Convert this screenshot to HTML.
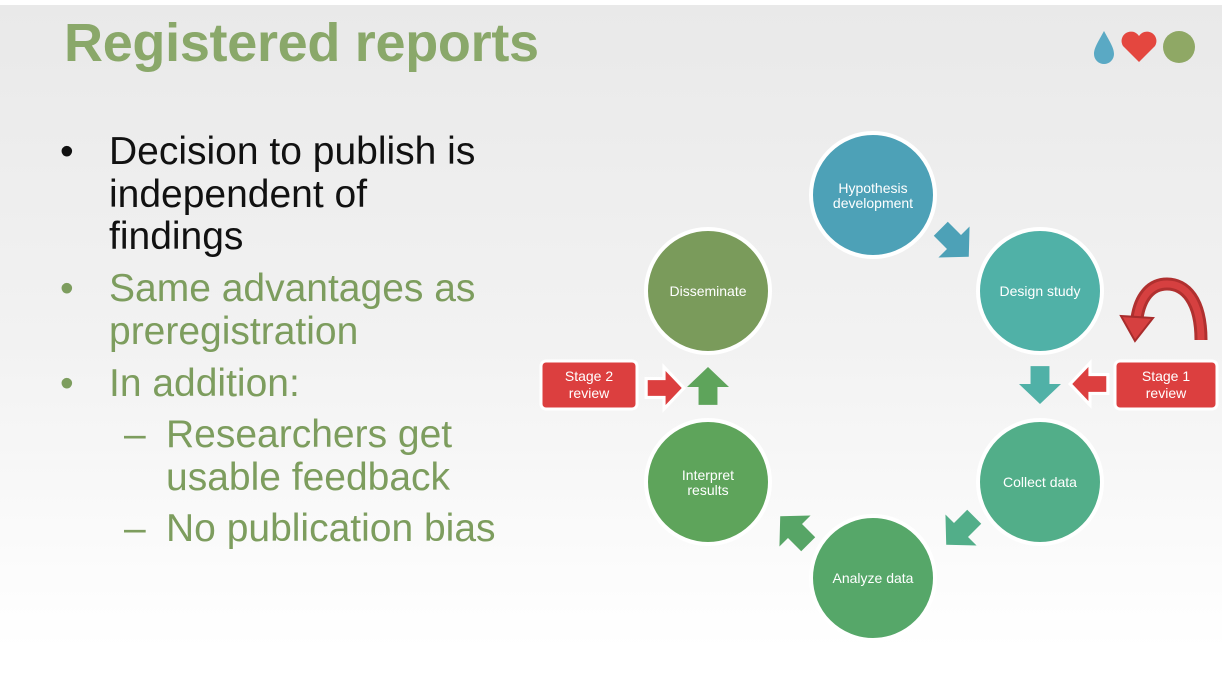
<!DOCTYPE html>
<html><head><style>
body{margin:0;width:1230px;height:683px;overflow:hidden;background:#fff;font-family:"Liberation Sans",sans-serif}
#s{position:absolute;left:0;top:5px;width:1222px;height:678px;background:linear-gradient(#e9e9e9 0%,#f2f2f2 50%,#ffffff 95%)}
.t{position:absolute;left:64px;top:12px;font-size:54px;font-weight:bold;color:#8aa86a;letter-spacing:-0.3px}
.b{position:absolute;font-size:39px;line-height:42.5px}
</style></head><body>
<div id="s"></div>
<div class="t">Registered reports</div>
<div class="b" style="left:60px;top:131px;color:#111">•</div>
<div class="b" style="left:109px;top:131px;color:#111">Decision to publish is<br>independent of<br>findings</div>
<div class="b" style="left:60px;top:268px;color:#7d9d5e">•</div>
<div class="b" style="left:109px;top:268px;color:#7d9d5e">Same advantages as<br>preregistration</div>
<div class="b" style="left:60px;top:363px;color:#7d9d5e">•</div>
<div class="b" style="left:109px;top:363px;color:#7d9d5e">In addition:</div>
<div class="b" style="left:124px;top:414px;color:#7d9d5e">–</div>
<div class="b" style="left:166px;top:414px;color:#7d9d5e">Researchers get<br>usable feedback</div>
<div class="b" style="left:124px;top:508px;color:#7d9d5e">–</div>
<div class="b" style="left:166px;top:508px;color:#7d9d5e">No publication bias</div>
<svg width="1230" height="683" style="position:absolute;left:0;top:0" font-family="Liberation Sans, sans-serif">
<defs><polygon id="a" points="-17,-9 0,-9 0,-20 19,0 0,20 0,9 -17,9"/></defs>
<path d="M1104,31 C1098,42 1094,48 1094,54 A10,10 0 0 0 1114,54 C1114,48 1110,42 1104,31Z" fill="#5aa9c4"/>
<path d="M1139,62 L1123,46 A9,9 0 0 1 1139,36 A9,9 0 0 1 1155,46 Z" fill="#e4473f"/>
<circle cx="1179" cy="47" r="16" fill="#8fa865"/>
<g stroke="#fff" stroke-width="4">
<circle cx="873" cy="195" r="62" fill="#4da1b7"/>
<circle cx="1040" cy="291" r="62" fill="#50b1a7"/>
<circle cx="1040" cy="482" r="62" fill="#52ae89"/>
<circle cx="873" cy="578" r="62" fill="#56a769"/>
<circle cx="708" cy="482" r="62" fill="#5ea45b"/>
<circle cx="708" cy="291" r="62" fill="#7a9b5b"/>
</g>
<g fill="#fff" font-size="14" text-anchor="middle">
<text x="873" y="193">Hypothesis</text><text x="873" y="208">development</text>
<text x="1040" y="296">Design study</text>
<text x="1040" y="487">Collect data</text>
<text x="873" y="583">Analyze data</text>
<text x="708" y="480">Interpret</text><text x="708" y="495">results</text>
<text x="708" y="296">Disseminate</text>
</g>
<use href="#a" transform="translate(954,242) rotate(45) scale(1.1)" fill="#4da1b7"/>
<use href="#a" transform="translate(961,530) rotate(135) scale(1.1)" fill="#52ae89"/>
<use href="#a" transform="translate(795,531) rotate(225) scale(1.1)" fill="#57a566"/>
<use href="#a" transform="translate(1040,384) rotate(90) scale(1.05)" fill="#50b1a7"/>
<use href="#a" transform="translate(708,387) rotate(-90) scale(1.05)" fill="#5ea45b"/>
<use href="#a" transform="translate(664,388) scale(1.05)" fill="#dc3f3f" stroke="#fff" stroke-width="3"/>
<use href="#a" transform="translate(1090,384) rotate(180) scale(1.05)" fill="#dc3f3f" stroke="#fff" stroke-width="3"/>
<rect x="541" y="361" width="96" height="48" rx="5" fill="#dc3f3f" stroke="#fff" stroke-width="3"/>
<rect x="1115" y="361" width="102" height="48" rx="5" fill="#dc3f3f" stroke="#fff" stroke-width="3"/>
<g fill="#fff" font-size="14" text-anchor="middle">
<text x="589" y="381">Stage 2</text><text x="589" y="398">review</text>
<text x="1166" y="381">Stage 1</text><text x="1166" y="398">review</text>
</g>
<path d="M1201,340 C1201,300 1185,284 1167,284 C1150,284 1140,298 1137,318" fill="none" stroke="#b0302f" stroke-width="13"/>
<path d="M1201,340 C1201,300 1185,284 1167,284 C1150,284 1140,298 1137,318" fill="none" stroke="#d64040" stroke-width="7"/>
<polygon points="1121,316 1153,318 1135,341" fill="#d64040" stroke="#a82c2c" stroke-width="2"/>
</svg>
</body></html>
